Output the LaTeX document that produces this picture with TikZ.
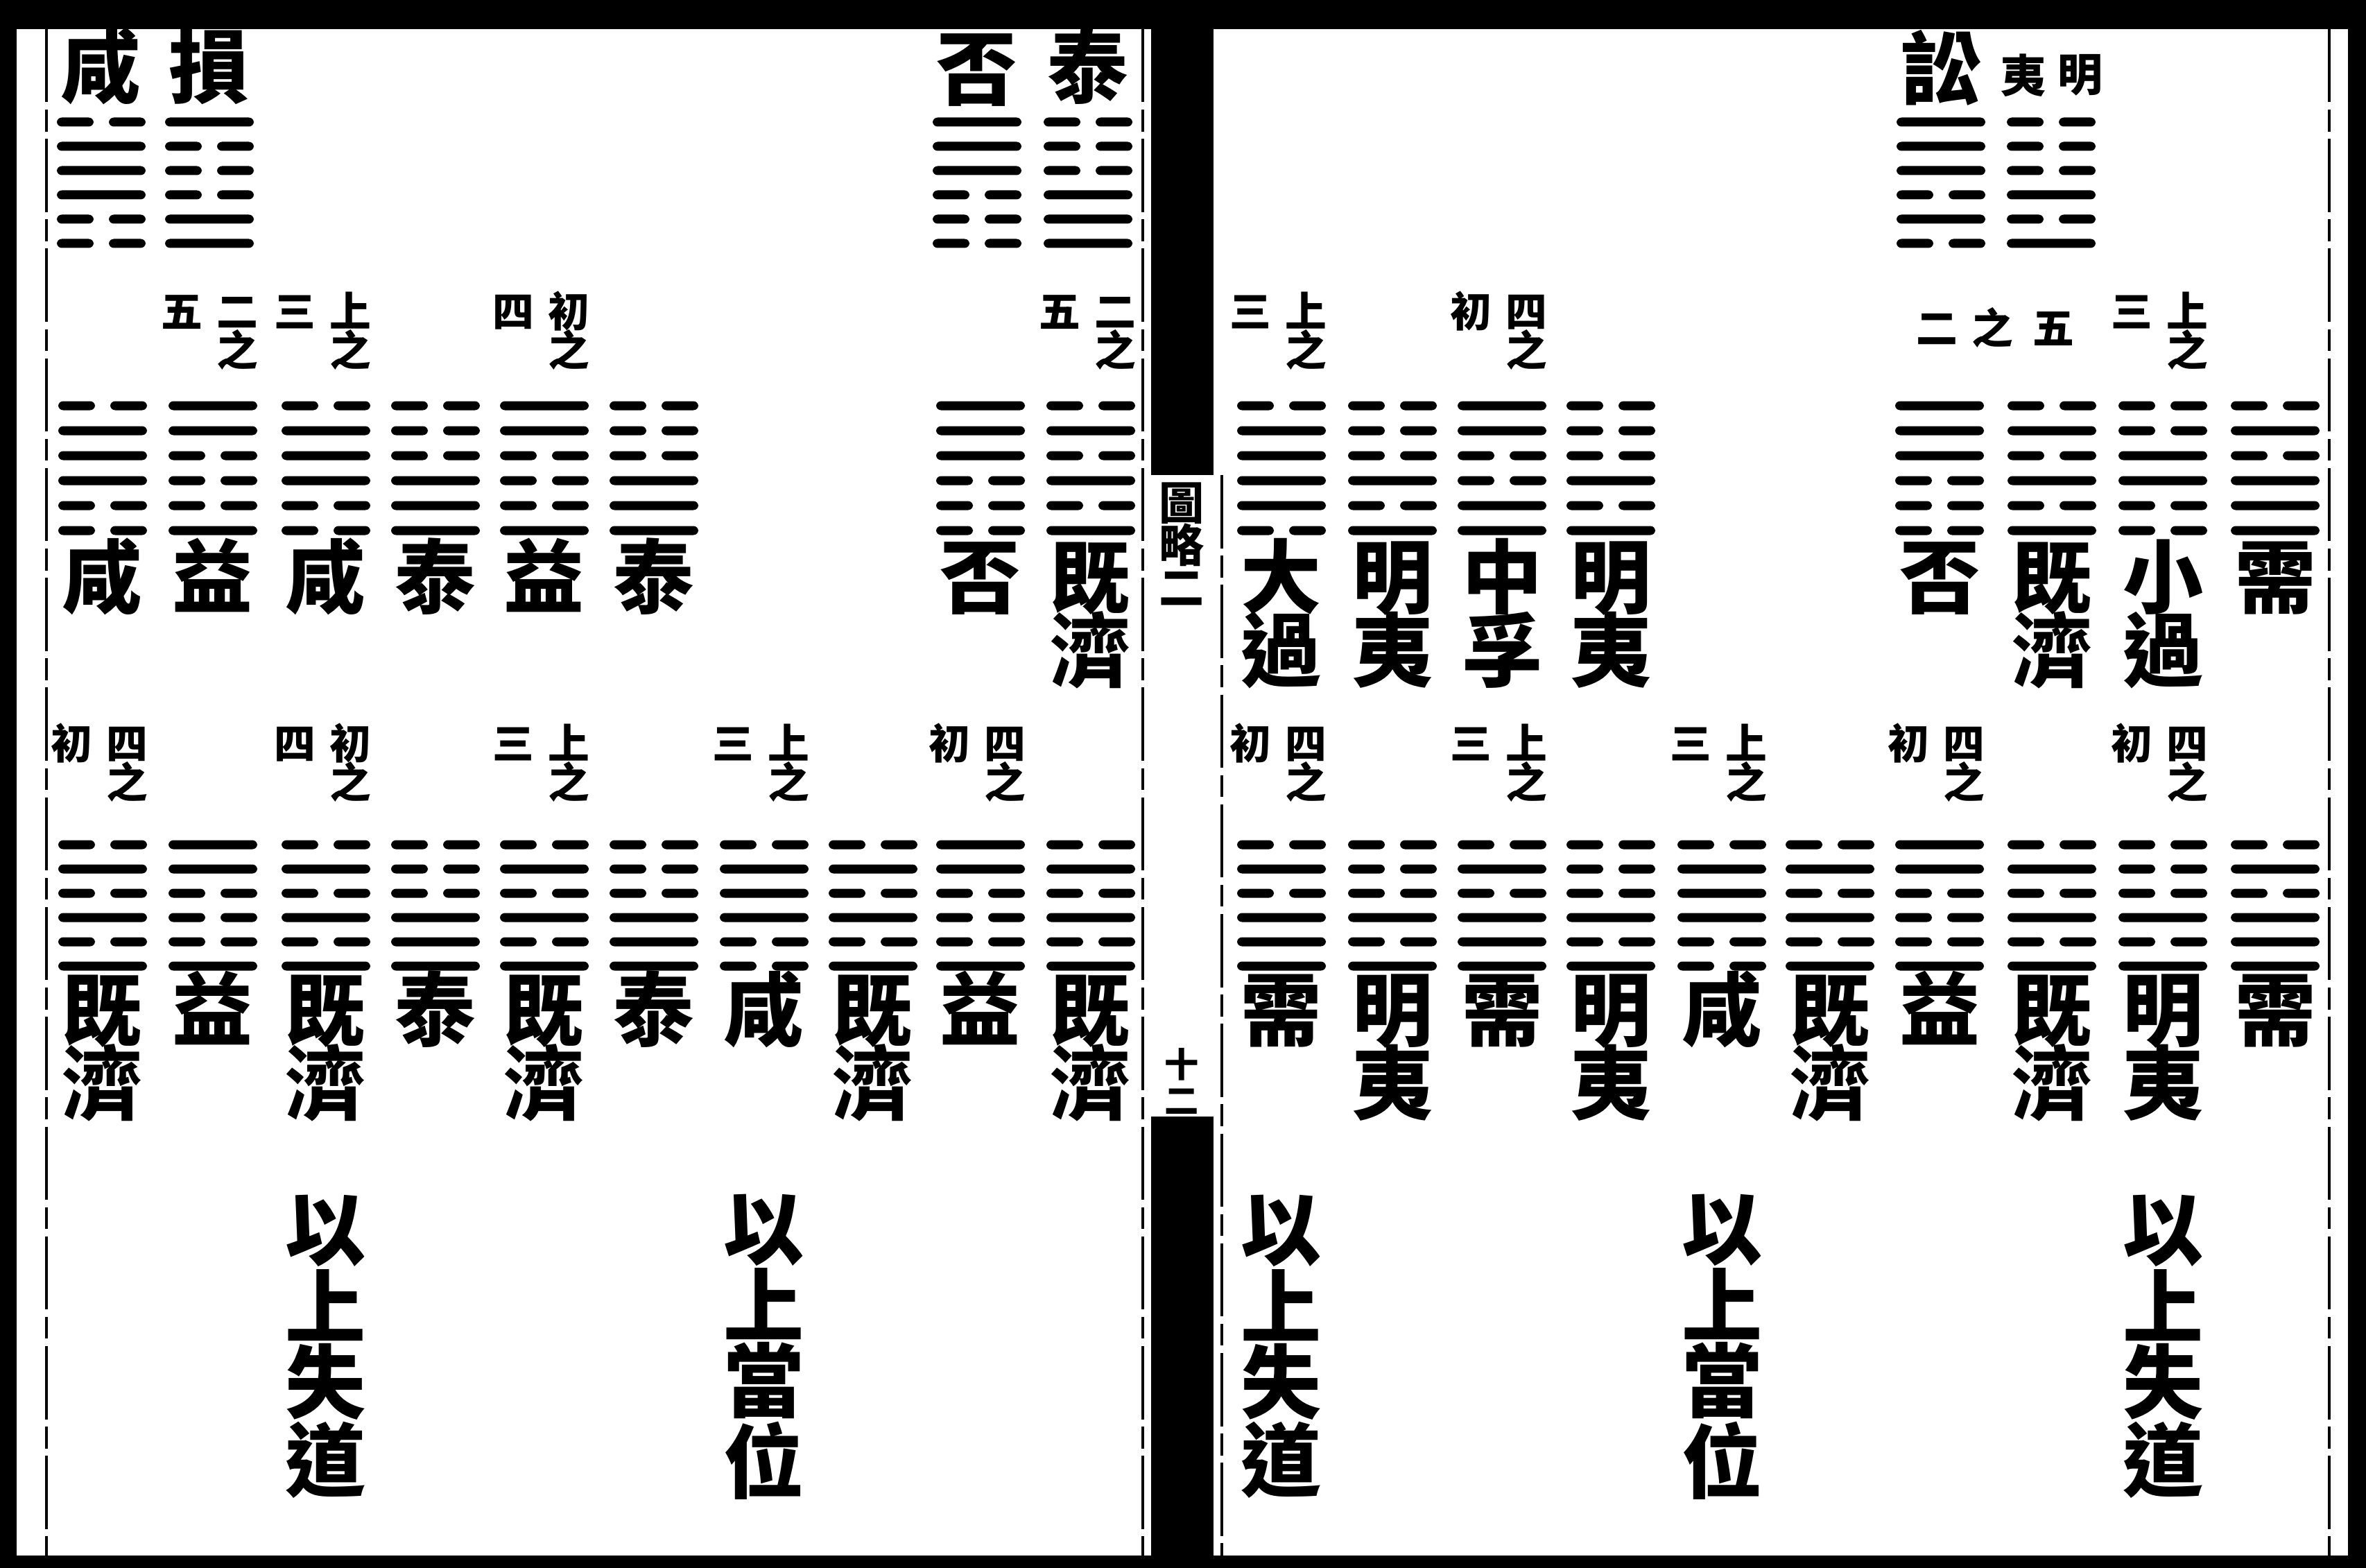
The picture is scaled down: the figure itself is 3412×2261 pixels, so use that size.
\documentclass[tikz,border=0pt]{standalone}
\usepackage{fontspec}
\newfontfamily\cjk{Noto Sans CJK TC}
\newcommand\hexg[4]{%
  \foreach \b [count=\k from 0] in {#4}{%
    \pgfmathsetmacro\yy{#2+\k*#3}%
    \ifnum\b=1
      \fill[hexline] (#1-64,\yy-6.5) rectangle (#1+64,\yy+6.5);
    \else
      \fill[hexline] (#1-64,\yy-6.5) rectangle (#1-11,\yy+6.5);
      \fill[hexline] (#1+11,\yy-6.5) rectangle (#1+64,\yy+6.5);
    \fi}}
\newcommand\gua[8]{%
  \hexg{#2}{#3}{#4}{#5}%
  \node[nm] (#1a) at (#2,#6) {#7};%
  \if\relax\detokenize{#8}\relax\else\node[nm] (#1b) at (#2,#6+106) {#8};\fi}
\newcommand\lab[5]{%
  \node[lb] (#1l) at (#2-45,#3) {#4};%
  \node[lb] (#1r) at (#2+35,#3) {#5};%
  \node[lb] (#1z) at (#2+35,#3+56) {之};}
\begin{document}
\begin{tikzpicture}[x=0.01cm,y=-0.01cm,
  hexline/.style={fill=black,rounded corners=2},
  nm/.style={font=\cjk\bfseries\fontsize{33pt}{33pt}\selectfont,inner sep=0pt,
    text height=0.8em,text depth=0.04em,yshift=-7.5pt},
  lb/.style={font=\cjk\bfseries\fontsize{17pt}{17pt}\selectfont,inner sep=0pt,
    text height=0.8em,text depth=0.04em,yshift=-3.6pt},
  sm/.style={font=\cjk\bfseries\fontsize{18.5pt}{18.5pt}\selectfont,inner sep=0pt,
    text height=0.8em,text depth=0.04em,yshift=-4pt},
  pn/.style={font=\cjk\bfseries\fontsize{14pt}{14pt}\selectfont,inner sep=0pt,
    text height=0.8em,text depth=0.04em,yshift=-3pt},
  col/.style={font=\cjk\bfseries\fontsize{33pt}{28pt}\selectfont,inner sep=0pt,align=center},
  rule/.style={line width=1pt,dash pattern=on 30pt off 3pt on 9pt off 3pt}]
\useasboundingbox (0,0) rectangle (3412,2261);
% frame and pages
\fill[black] (0,0) rectangle (3412,2261);
\fill[white] (24,42) rectangle (1660,2243);
\fill[white] (1750,42) rectangle (3386,2243);
\fill[white] (1660,685) rectangle (1750,1610);
\draw[rule] (67,42) -- (67,2243);
\draw[rule] (1648,42) -- (1648,2243);
\draw[rule] (1762,685) -- (1762,2243);
\draw[rule] (3359,42) -- (3359,2243);
% centre strip
\node[sm] (sp1) at (1704,722) {圖};
\node[sm] (sp2) at (1704,783) {略};
\node[sm] (sp3) at (1704,844) {二};
\node[pn] (pg1) at (1704,1530) {十};
\node[pn] (pg2) at (1704,1582) {二};
% ---- top row
\gua{t1}{146}{176}{35}{0,1,1,1,0,0}{100}{咸}{}
\gua{t2}{302}{176}{35}{1,0,0,0,1,1}{100}{損}{}
\gua{t3}{1409}{176}{35}{1,1,1,0,0,0}{103}{否}{}
\gua{t4}{1569}{176}{35}{0,0,0,1,1,1}{100}{泰}{}
\gua{t5}{2799}{176}{35}{1,1,1,0,1,0}{103}{訟}{}
\hexg{2958}{176}{35}{0,0,0,1,0,1}
\node[sm] (t6a) at (2918,106) {夷};
\node[sm] (t6b) at (3000,104) {明};
% ---- middle row, left page
\gua{ma0}{148}{585}{36}{0,1,1,1,0,0}{836}{咸}{}
\gua{ma1}{307}{585}{36}{1,1,0,0,0,1}{836}{益}{}
\gua{ma2}{470}{585}{36}{0,1,1,1,0,0}{836}{咸}{}
\gua{ma3}{628}{585}{36}{0,0,0,1,1,1}{836}{泰}{}
\gua{ma4}{785}{585}{36}{1,1,0,0,0,1}{836}{益}{}
\gua{ma5}{943}{585}{36}{0,0,0,1,1,1}{836}{泰}{}
\gua{ma8}{1414}{585}{36}{1,1,1,0,0,0}{836}{否}{}
\gua{ma9}{1573}{585}{36}{0,1,0,1,0,1}{836}{既}{濟}
\lab{la1}{307}{445}{五}{二}
\lab{la2}{470}{445}{三}{上}
\lab{la4}{785}{445}{四}{初}
\lab{la9}{1573}{445}{五}{二}
% ---- middle row, right page
\gua{mb0}{1848}{585}{36}{0,1,1,1,1,0}{836}{大}{過}
\gua{mb1}{2008}{585}{36}{0,0,0,1,0,1}{836}{明}{夷}
\gua{mb2}{2166}{585}{36}{1,1,0,0,1,1}{836}{中}{孚}
\gua{mb3}{2323}{585}{36}{0,0,0,1,0,1}{836}{明}{夷}
\gua{mb6}{2797}{585}{36}{1,1,1,0,0,0}{836}{否}{}
\gua{mb7}{2959}{585}{36}{0,1,0,1,0,1}{836}{既}{濟}
\gua{mb8}{3119}{585}{36}{0,0,1,1,0,0}{836}{小}{過}
\gua{mb9}{3281}{585}{36}{0,1,0,1,1,1}{836}{需}{}
\lab{lb0}{1848}{445}{三}{上}
\lab{lb2}{2166}{445}{初}{四}
\node[lb] (lb6a) at (2793,469) {二};
\node[lb] (lb6b) at (2873,469) {之};
\node[lb] (lb6c) at (2961,469) {五};
\lab{lb8}{3119}{445}{三}{上}
% ---- bottom row, left page
\gua{ba0}{148}{1218}{35}{0,1,0,1,0,1}{1460}{既}{濟}
\gua{ba1}{307}{1218}{35}{1,1,0,0,0,1}{1460}{益}{}
\gua{ba2}{470}{1218}{35}{0,1,0,1,0,1}{1460}{既}{濟}
\gua{ba3}{628}{1218}{35}{0,0,0,1,1,1}{1460}{泰}{}
\gua{ba4}{785}{1218}{35}{0,1,0,1,0,1}{1460}{既}{濟}
\gua{ba5}{943}{1218}{35}{0,0,0,1,1,1}{1460}{泰}{}
\gua{ba6}{1102}{1218}{35}{0,1,1,1,0,0}{1460}{咸}{}
\gua{ba7}{1259}{1218}{35}{0,1,0,1,0,1}{1460}{既}{濟}
\gua{ba8}{1414}{1218}{35}{1,1,0,0,0,1}{1460}{益}{}
\gua{ba9}{1573}{1218}{35}{0,1,0,1,0,1}{1460}{既}{濟}
\lab{lc0}{148}{1068}{初}{四}
\lab{lc2}{470}{1068}{四}{初}
\lab{lc4}{785}{1068}{三}{上}
\lab{lc6}{1102}{1068}{三}{上}
\lab{lc8}{1414}{1068}{初}{四}
% ---- bottom row, right page
\gua{bb0}{1848}{1218}{35}{0,1,0,1,1,1}{1460}{需}{}
\gua{bb1}{2008}{1218}{35}{0,0,0,1,0,1}{1460}{明}{夷}
\gua{bb2}{2166}{1218}{35}{0,1,0,1,1,1}{1460}{需}{}
\gua{bb3}{2323}{1218}{35}{0,0,0,1,0,1}{1460}{明}{夷}
\gua{bb4}{2483}{1218}{35}{0,1,1,1,0,0}{1460}{咸}{}
\gua{bb5}{2639}{1218}{35}{0,1,0,1,0,1}{1460}{既}{濟}
\gua{bb6}{2797}{1218}{35}{1,1,0,0,0,1}{1460}{益}{}
\gua{bb7}{2959}{1218}{35}{0,1,0,1,0,1}{1460}{既}{濟}
\gua{bb8}{3119}{1218}{35}{0,0,0,1,0,1}{1460}{明}{夷}
\gua{bb9}{3281}{1218}{35}{0,1,0,1,1,1}{1460}{需}{}
\lab{ld0}{1848}{1068}{初}{四}
\lab{ld2}{2166}{1068}{三}{上}
\lab{ld4}{2483}{1068}{三}{上}
\lab{ld6}{2797}{1068}{初}{四}
\lab{ld8}{3119}{1068}{初}{四}
% ---- closing columns
\node[col] (c1) at (470,1942) {以\\上\\失\\道};
\node[col] (c2) at (1102,1942) {以\\上\\當\\位};
\node[col] (c3) at (1848,1942) {以\\上\\失\\道};
\node[col] (c4) at (2483,1942) {以\\上\\當\\位};
\node[col] (c5) at (3119,1942) {以\\上\\失\\道};
\end{tikzpicture}
\end{document}
